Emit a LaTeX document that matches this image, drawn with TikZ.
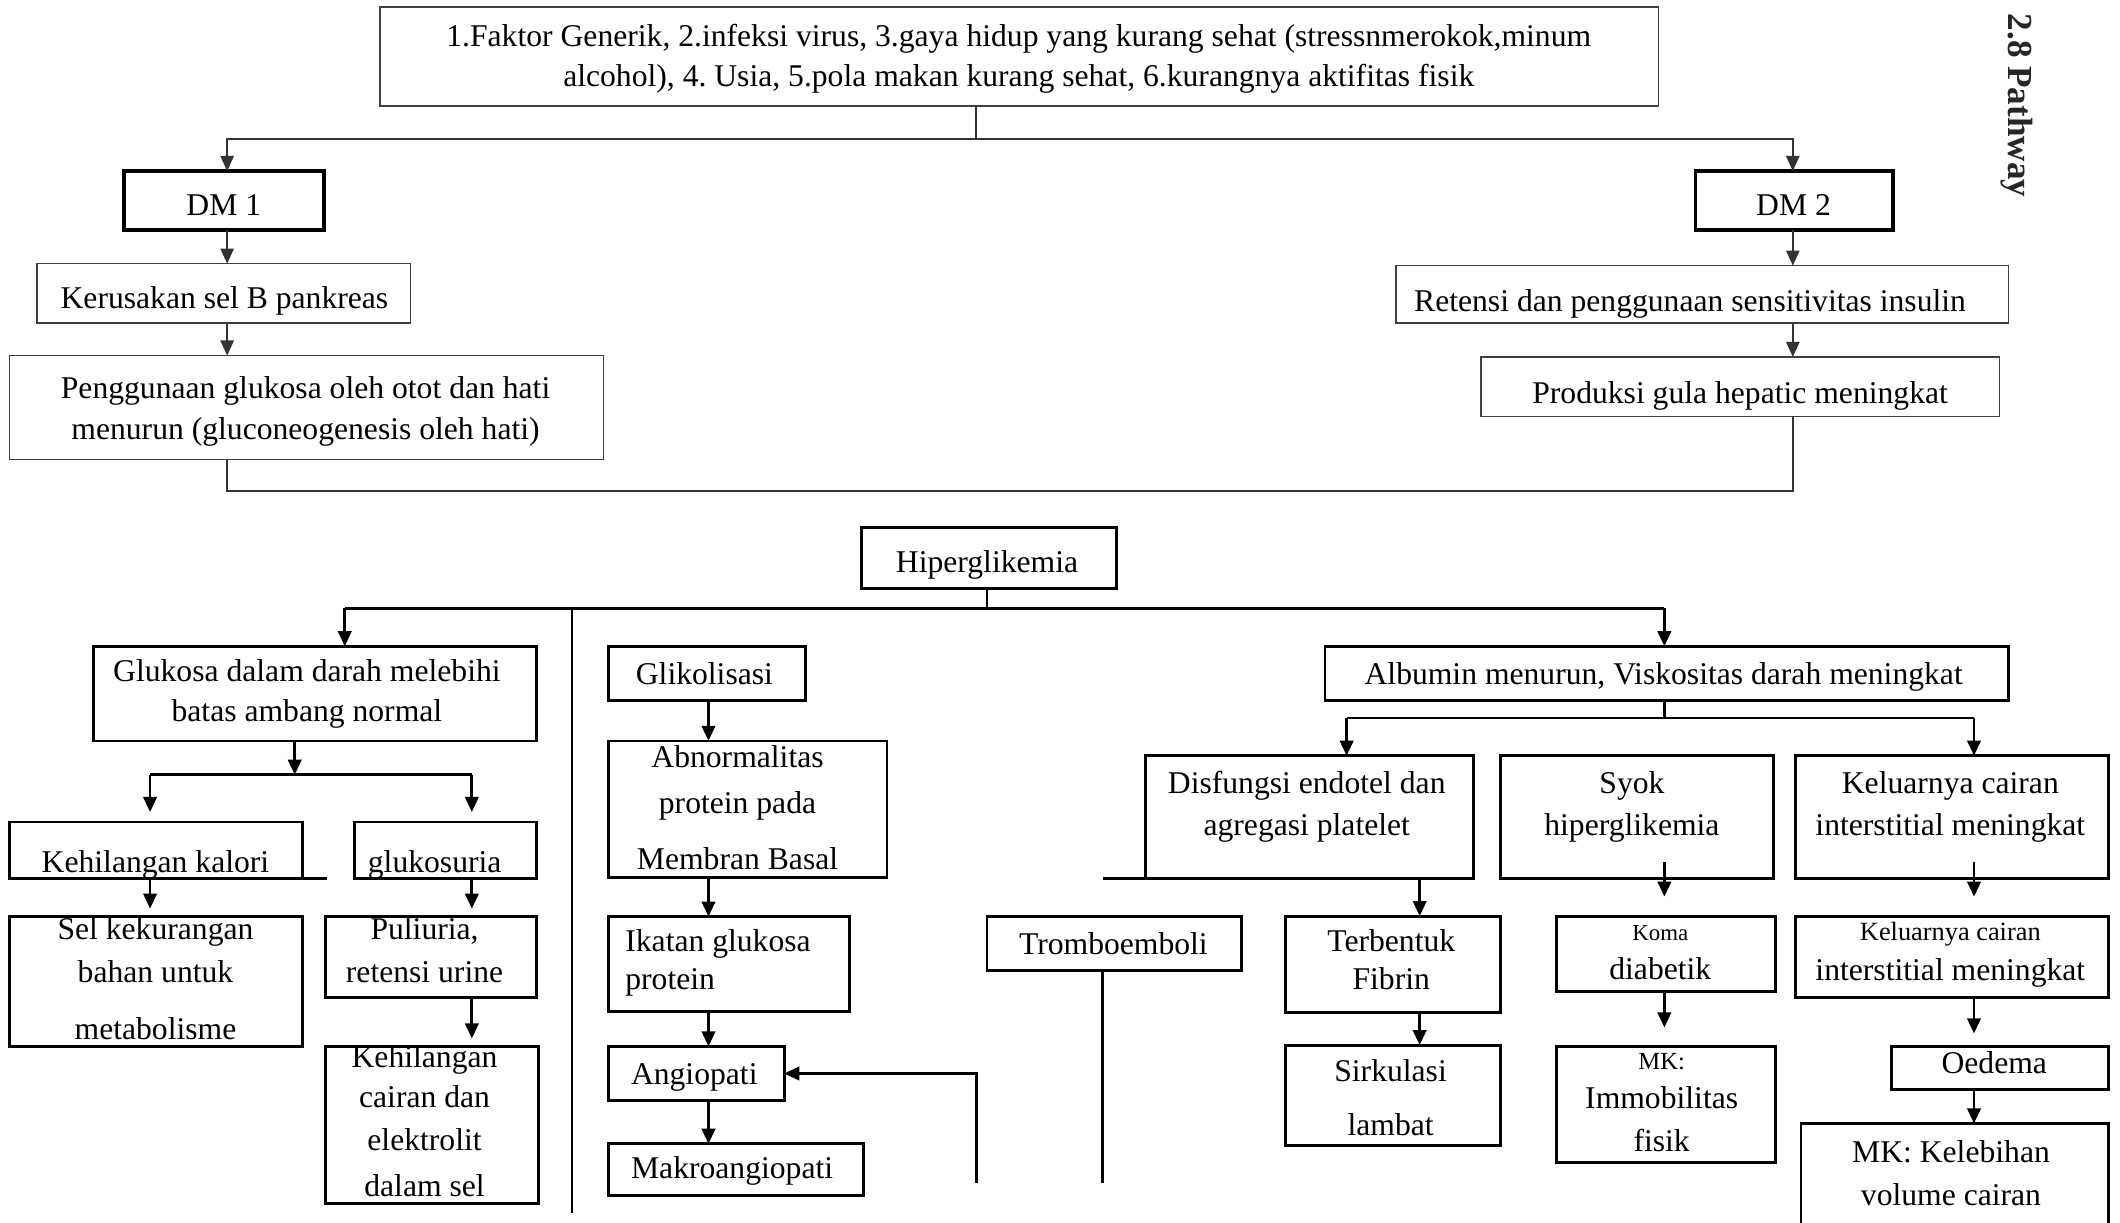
\documentclass[tikz,border=0pt]{standalone}
\usepackage{fontspec}
\setmainfont{Liberation Serif}
\usetikzlibrary{arrows.meta}
\frenchspacing

% every text line carries a 9pt strut so that line centres are predictable
\newcommand\lnstrut{\strut}
% framed box from its corners: [style]{name}{x1}{y1}{x2}{y2}
\newcommand\bx[6][]{\node[box,#1,minimum width={(#5-#3)*0.01352cm},minimum height={(#6-#4)*0.01352cm}] (#2) at ({(#3+#5)/2},{(#4+#6)/2}) {};}
% text block centred on a point: [style]{name}{x}{y}{text}
\newcommand\tx[5][]{\node[txt,#1] (#2) at (#3,#4) {#5};}

\tikzset{
  box/.style={draw=black, line width=0.8pt, inner sep=0pt, outer sep=0pt},
  ubox/.style={draw=black!75, line width=0.45pt},
  dmbox/.style={draw=black, line width=1.1pt},
  txt/.style={inner sep=0pt, align=center, yshift=-0.045cm, font=\fontsize{9}{11.5}\selectfont, execute at begin node=\lnstrut},
  heading/.style={inner sep=0pt, font=\fontsize{10}{12}\selectfont\bfseries, text=black!85},
  arr/.style={-{Triangle[length=4.3pt,width=3.8pt]}},
  thinln/.style={line width=0.45pt, draw=black!80},
  thickln/.style={line width=0.8pt},
  gap/.style={shorten >=#1},
}

\begin{document}
\begin{tikzpicture}[x=0.01352cm, y=-0.01352cm]
\useasboundingbox (0,0) rectangle (1568,904);
\clip (0,0) rectangle (1568,904);
\fill[white] (0,0) rectangle (1568,904);

% ---------------- causes and the two types ----------------
\bx[ubox]{top}{281}{5}{1226.5}{78.4}
\tx{ttop}{753.5}{42}{1.Faktor Generik, 2.infeksi virus, 3.gaya hidup yang kurang sehat (stressnmerokok,minum\\\lnstrut alcohol), 4. Usia, 5.pola makan kurang sehat, 6.kurangnya aktifitas fisik}

\bx[dmbox]{dm1}{91.5}{126.5}{239.6}{170}
\tx{tdm1}{165.5}{150}{DM 1}
\bx[dmbox]{dm2}{1254}{126.5}{1400}{170}
\tx{tdm2}{1326.5}{150}{DM 2}

\bx[ubox]{ker}{27.5}{195}{303.5}{239}
\tx{tker}{166}{219}{Kerusakan sel B pankreas}
\bx[ubox]{pen}{7}{263}{446.5}{340}
\tx{tpen}{226}{303}{Penggunaan glukosa oleh otot dan hati\\\lnstrut menurun (gluconeogenesis oleh hati)}

\bx[ubox]{ret}{1032.5}{196.5}{1485.6}{239}
\tx{tret}{1250}{221}{Retensi dan penggunaan sensitivitas insulin}
\bx[ubox]{prod}{1095.5}{264}{1479}{308}
\tx{tprod}{1287}{289}{Produksi gula hepatic meningkat}

\node[heading, rotate=-90] (ttl) at (1492,78) {2.8 Pathway};

% column guides of the upper part
\coordinate (jt) at (722,103);
\coordinate (cL) at (168,363);
\coordinate (cR) at (1326,363);

\draw[thinln] (top.south -| jt) -- (jt);
\draw[thinln,arr] (jt) -| (cL |- dm1.north);
\draw[thinln,arr] (jt) -| (cR |- dm2.north);
\draw[thinln,arr] (cL |- dm1.south) -- (cL |- ker.north);
\draw[thinln,arr] (cL |- ker.south) -- (cL |- pen.north);
\draw[thinln,arr] (cR |- dm2.south) -- (cR |- ret.north);
\draw[thinln,arr] (cR |- ret.south) -- (cR |- prod.north);
\draw[thinln] (cL |- pen.south) -- (cL) -- (cR) -- (cR |- prod.south);

% ---------------- hyperglycaemia and its branches ----------------
\bx{hip}{637}{390}{826}{435}
\tx{thip}{730}{414}{Hiperglikemia}

\bx{glu}{69}{478}{397}{548}
\tx{tglu}{227}{512}{Glukosa dalam darah melebihi\\\lnstrut batas ambang normal}
\bx{kal}{7}{608}{224}{650}
\tx{tkal}{115}{636}{Kehilangan kalori}
\bx{gls}{262}{608}{397}{650}
\tx{tgls}{321.5}{636}{glukosuria}
\bx{sel}{7}{678}{224}{774}
\tx{tsel}{115}{725}{Sel kekurangan\\[0.8pt]\lnstrut bahan untuk\\[4.7pt]\lnstrut metabolisme}
\bx{pul}{241}{678}{397}{738}
\tx{tpul}{314}{704}{Puliuria,\\[0.8pt]\lnstrut retensi urine}
\bx{kc}{241}{774}{398}{890}
\tx{tkc}{314}{830.3}{Kehilangan\\\lnstrut cairan dan\\[0.8pt]\lnstrut elektrolit\\[1.6pt]\lnstrut dalam sel}

\bx{glik}{450}{478}{596}{518}
\tx{tglik}{521}{497}{Glikolisasi}
\bx{abn}{450}{548}{656}{649}
\tx{tabn}{545.5}{598.5}{Abnormalitas\\[1.6pt]\lnstrut protein pada\\[4.3pt]\lnstrut Membran Basal}
\bx{ik}{450}{678}{628}{748}
\tx[anchor=west,align=left]{tik}{462}{711}{Ikatan glukosa\\[-0.7pt]\lnstrut protein}
\bx{ang}{450}{774}{580}{814}
\tx{tang}{513.5}{793}{Angiopati}
\bx{mak}{450}{846}{638.7}{884}
\tx{tmak}{541.5}{862}{Makroangiopati}

\bx{tro}{730}{678}{918}{717.5}
\tx{ttro}{823.5}{697}{Tromboemboli}

\bx{alb}{980}{478}{1485.6}{518}
\tx{talb}{1230.5}{497}{Albumin menurun, Viskositas darah meningkat}
\bx{dis}{847}{559}{1090}{649.6}
\tx{tdis}{966.5}{595.5}{Disfungsi endotel dan\\[0.4pt]\lnstrut agregasi platelet}
\bx{syok}{1110}{559}{1312}{649.6}
\tx{tsyok}{1207}{595.5}{Syok\\[0.4pt]\lnstrut hiperglikemia}
\bx{kel}{1328}{559}{1559.6}{649.6}
\tx{tkel}{1442.5}{595.5}{Keluarnya cairan\\[0.4pt]\lnstrut interstitial meningkat}

\bx{ter}{951}{677.6}{1110}{749}
\tx{tter}{1029}{711}{Terbentuk\\[-0.7pt]\lnstrut Fibrin}
\bx{sir}{951}{773}{1110}{847}
\tx{tsir}{1028.5}{813}{Sirkulasi\\[3.9pt]\lnstrut lambat}

\bx{koma}{1151}{678}{1313}{733.5}
\tx{tkoma}{1228}{705.5}{{\fontsize{6.5}{8}\selectfont Koma}\\[-0.35pt]\lnstrut diabetik}
\bx{mki}{1151}{774}{1313}{860}
\tx{tmki}{1229}{816.5}{{\fontsize{7}{8.5}\selectfont MK:}\\[-0.35pt]\lnstrut Immobilitas\\[0.8pt]\lnstrut fisik}

\bx{kel2}{1328}{678}{1559.6}{737.6}
\tx{tkel2}{1442.5}{705}{{\fontsize{7.5}{9}\selectfont Keluarnya cairan}\\\lnstrut interstitial meningkat}
\bx{oed}{1399}{774}{1559.6}{806}
\tx{toed}{1475}{785}{Oedema}
\bx{mk2}{1332}{831}{1559.6}{940}
\tx{tmk2}{1443}{869}{MK: Kelebihan\\[0.8pt]\lnstrut volume cairan}

% ---------------- connectors of the lower part ----------------
\begin{scope}[thickln]
  \coordinate (jh) at (730,450);
  \coordinate (hL) at (255,450);
  \coordinate (hR) at (1231,450);
  \coordinate (dv) at (423,450);
  \coordinate (dvE) at (423,897);
  \draw (hip.south -| jh) -- (jh);
  \draw (hL) -- (hR);
  \draw[arr] (hL) -- (hL |- glu.north);
  \draw[arr] (hR) -- (hR |- alb.north);
  \draw (dv) -- (dvE);

  % glucose branch
  \coordinate (gj) at (218,573);
  \coordinate (gL) at (111,573);
  \coordinate (gR) at (349,573);
  \draw[arr] (glu.south -| gj) -- (gj);
  \draw (gL) -- (gR);
  \draw[arr,gap=0.1cm] (gL) -- (gL |- kal.north);
  \draw[arr,gap=0.1cm] (gR) -- (gR |- gls.north);
  \draw (kal.south east) -- ++(18,0);
  \draw[arr,gap=0.08cm] (gL |- kal.south) -- (gL |- sel.north);
  \draw[arr,gap=0.08cm] (gR |- gls.south) -- (gR |- pul.north);
  \draw[arr,gap=0.08cm] (gR |- pul.south) -- (gR |- kc.north);

  % glycation branch
  \coordinate (cG) at (524,0);
  \draw[arr] (cG |- glik.south) -- (cG |- abn.north);
  \draw[arr] (cG |- abn.south) -- (cG |- ik.north);
  \draw[arr] (cG |- ik.south) -- (cG |- ang.north);
  \draw[arr] (cG |- ang.south) -- (cG |- mak.north);
  \coordinate (fb) at (722,875);
  \draw[arr] (fb) |- (ang.east);

  % thromboembolism
  \coordinate (tv) at (815.5,875);
  \draw (tro.south -| tv) -- (tv);
  \draw (dis.south west) -- (dis.south west -| tv);

  % albumin branch
  \coordinate (aj) at (1231,531);
  \coordinate (aL) at (996,531);
  \coordinate (aR) at (1460,531);
  \draw (alb.south -| aj) -- (aj);
  \draw (aL) -- (aR);
  \draw[arr] (aL) -- (aL |- dis.north);
  \draw[arr] (aR) -- (aR |- kel.north);

  \coordinate (cT) at (1050,0);
  \draw[arr] (cT |- dis.south) -- (cT |- ter.north);
  \draw[arr] (cT |- ter.south) -- (cT |- sir.north);

  \coordinate (cS) at (1231,0);
  \draw[arr,shorten <=-0.16cm,gap=0.2cm] (cS |- syok.south) -- (cS |- koma.north);
  \draw[arr,gap=0.19cm] (cS |- koma.south) -- (cS |- mki.north);

  \coordinate (cK) at (1460,0);
  \draw[arr,shorten <=-0.16cm,gap=0.2cm] (cK |- kel.south) -- (cK |- kel2.north);
  \draw[arr,gap=0.13cm] (cK |- kel2.south) -- (cK |- oed.north);
  \draw[arr] (cK |- oed.south) -- (cK |- mk2.north);
\end{scope}
\end{tikzpicture}
\end{document}
